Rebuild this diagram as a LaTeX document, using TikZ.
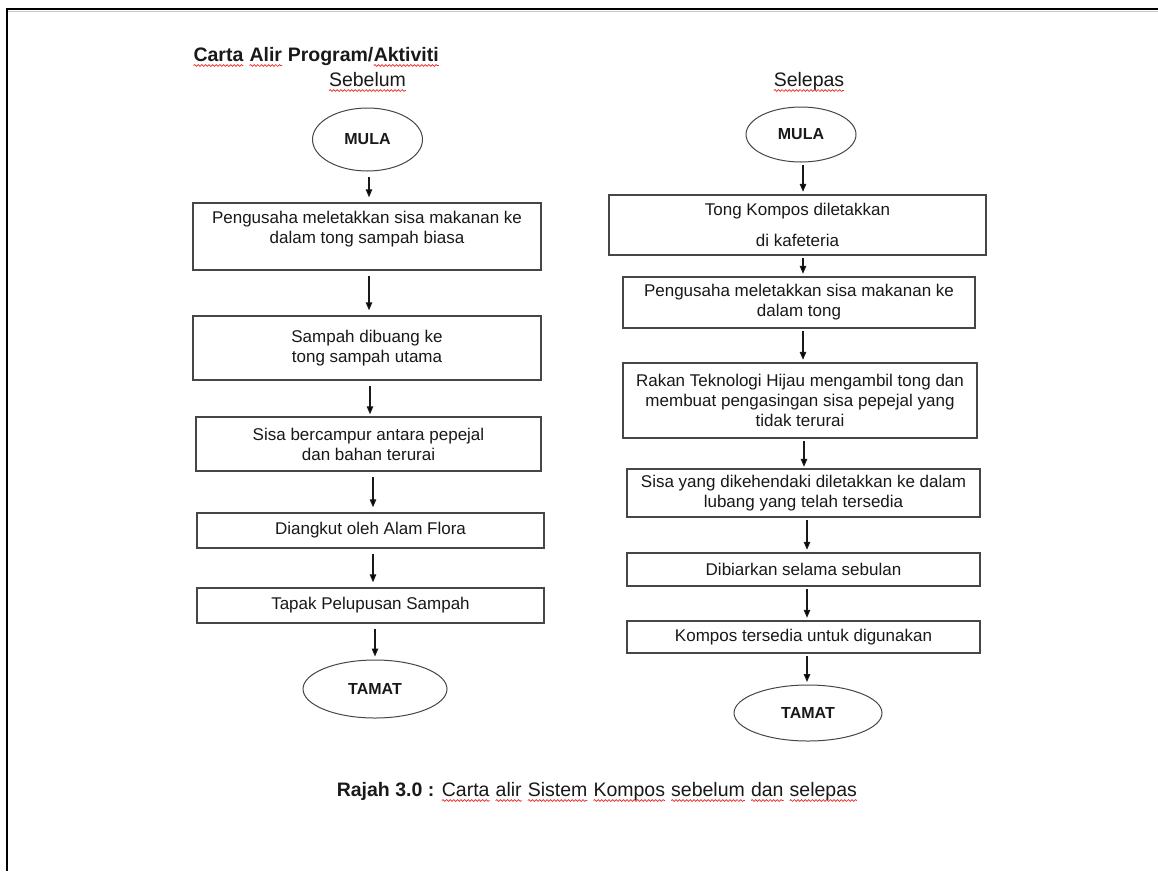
\documentclass[tikz,border=0pt]{standalone}
\usepackage{fontspec}
\setmainfont{Liberation Sans}
\usetikzlibrary{shapes.geometric,arrows.meta,decorations.pathmorphing}

\definecolor{spellred}{RGB}{235,40,40}
\definecolor{edge}{RGB}{70,70,70}
\definecolor{ink}{RGB}{25,25,25}

% word with a red wavy underline
\newcommand\spellmark[1]{\tikz[baseline=(spw.base),x=1pt,y=1pt]{%
  \node[inner sep=0pt,outer sep=0pt,anchor=base,draw=none,fill=none](spw){#1};%
  \draw[spellred,line width=0.7pt,decorate,decoration={snake,amplitude=0.9pt,segment length=3.6pt}]
    ([yshift=-4.5pt]spw.base west) -- ([yshift=-4.5pt]spw.base east);}}

\newcommand\bodyfont{\fontsize{17}{20}\selectfont}
\newcommand\headfont{\fontsize{19.5}{23}\selectfont}
\newcommand\termfont{\fontsize{16}{19}\selectfont\bfseries}

\tikzset{
  stepbox/.style={draw=edge,line width=1.4pt,rectangle,inner sep=0pt,align=center,
    text=ink,font=\bodyfont},
  terminal/.style={draw=edge,line width=1pt,ellipse,inner sep=0pt,text=ink,font=\termfont},
  heading/.style={inner sep=0pt,text=ink,font=\headfont},
  flowL/.style={draw=ink,line width=1.2pt,-{Triangle[length=8pt,width=6.5pt]},
    shorten <=5pt,shorten >=5pt},
  flowR/.style={draw=ink,line width=1.2pt,-{Triangle[length=8pt,width=6.5pt]},
    shorten <=2.5pt,shorten >=2.5pt},
}

\begin{document}
\begin{tikzpicture}[x=1pt,y=-1pt]
\useasboundingbox (0,0) rectangle (1158,871);
\fill[white] (0,0) rectangle (1158,871);

% page frame
\draw[black!22,line width=1.2pt] (8,11.2) -- (1158,11.2);
\draw[black,line width=2.4pt] (7,9) -- (1158,9);
\draw[black,line width=2.2pt] (7,8) -- (7,871);

% headings
\node[heading,anchor=base west] (title) at (193,61)
  {\bfseries\spellmark{Carta} \spellmark{Alir} Program/\spellmark{Aktiviti}};
\node[heading,anchor=base] (before) at (367.5,86) {\spellmark{Sebelum}};
\node[heading,anchor=base] (after) at (809,86) {\spellmark{Selepas}};

% left flow: before
\node[terminal,minimum width=110pt,minimum height=63pt] (lstart) at (367.5,139.5) {MULA};
\node[stepbox,minimum width=348pt,minimum height=67pt] (l1) at (367,236.5)
  {Pengusaha meletakkan sisa makanan ke\\dalam tong sampah biasa\\[-7pt]\strut};
\node[stepbox,minimum width=348pt,minimum height=64pt] (l2) at (367,348)
  {Sampah dibuang ke\\tong sampah utama};
\node[stepbox,minimum width=345pt,minimum height=54pt] (l3) at (368.5,444)
  {Sisa bercampur antara pepejal\\dan bahan terurai};
\node[stepbox,minimum width=347pt,minimum height=35pt] (l4) at (370.5,530.5)
  {Diangkut oleh Alam Flora};
\node[stepbox,minimum width=347pt,minimum height=35pt] (l5) at (370.5,605.5)
  {Tapak Pelupusan Sampah};
\node[terminal,minimum width=144pt,minimum height=58pt] (lend) at (375,689) {TAMAT};

\draw[flowL] ([xshift=1.5pt]lstart.south) -- ([xshift=1.5pt]lstart.south |- l1.north);
\draw[flowL] ([xshift=2pt]l1.south) -- ([xshift=2pt]l1.south |- l2.north);
\draw[flowL,shorten >=2pt] ([xshift=3pt]l2.south) -- ([xshift=3pt]l2.south |- l3.north);
\draw[flowL] ([xshift=4.5pt]l3.south) -- ([xshift=4.5pt]l3.south |- l4.north);
\draw[flowL] ([xshift=2.5pt]l4.south) -- ([xshift=2.5pt]l4.south |- l5.north);
\draw[flowL,shorten >=3pt] ([xshift=4.5pt]l5.south) -- ([xshift=4.5pt]l5.south |- lend.north);

% right flow: after
\node[terminal,minimum width=110pt,minimum height=55pt] (rstart) at (801,134.5) {MULA};
\node[stepbox,minimum width=377pt,minimum height=60pt] (r1) at (797.5,225)
  {Tong Kompos diletakkan\\[11pt]di kafeteria};
\node[stepbox,minimum width=352pt,minimum height=51pt] (r2) at (799,302.5)
  {Pengusaha meletakkan sisa makanan ke\\dalam tong};
\node[stepbox,minimum width=354pt,minimum height=75pt] (r3) at (800,400.5)
  {Rakan Teknologi Hijau mengambil tong dan\\membuat pengasingan sisa pepejal yang\\tidak terurai};
\node[stepbox,minimum width=353pt,minimum height=48pt] (r4) at (803.5,493)
  {Sisa yang dikehendaki diletakkan ke dalam\\lubang yang telah tersedia};
\node[stepbox,minimum width=353pt,minimum height=33pt] (r5) at (803.5,569.5)
  {Dibiarkan selama sebulan};
\node[stepbox,minimum width=353pt,minimum height=32pt] (r6) at (803.5,637)
  {Kompos tersedia untuk digunakan};
\node[terminal,minimum width=148pt,minimum height=56pt] (rend) at (808,713) {TAMAT};

\draw[flowR] ([xshift=2pt]rstart.south) -- ([xshift=2pt]rstart.south |- r1.north);
\draw[flowR] ([xshift=5.5pt]r1.south) -- ([xshift=5.5pt]r1.south |- r2.north);
\draw[flowR] ([xshift=4pt]r2.south) -- ([xshift=4pt]r2.south |- r3.north);
\draw[flowR,shorten >=1.5pt] ([xshift=4pt]r3.south) -- ([xshift=4pt]r3.south |- r4.north);
\draw[flowR] ([xshift=3.5pt]r4.south) -- ([xshift=3.5pt]r4.south |- r5.north);
\draw[flowR] ([xshift=3.5pt]r5.south) -- ([xshift=3.5pt]r5.south |- r6.north);
\draw[flowR] ([xshift=3.5pt]r6.south) -- ([xshift=3.5pt]r6.south |- rend.north);

% caption
\node[heading,anchor=base] (caption) at (597,796)
  {\textbf{Rajah 3.0 :} \spellmark{Carta} \spellmark{alir} \spellmark{Sistem} \spellmark{Kompos} \spellmark{sebelum} \spellmark{dan} \spellmark{selepas}};
\end{tikzpicture}
\end{document}
